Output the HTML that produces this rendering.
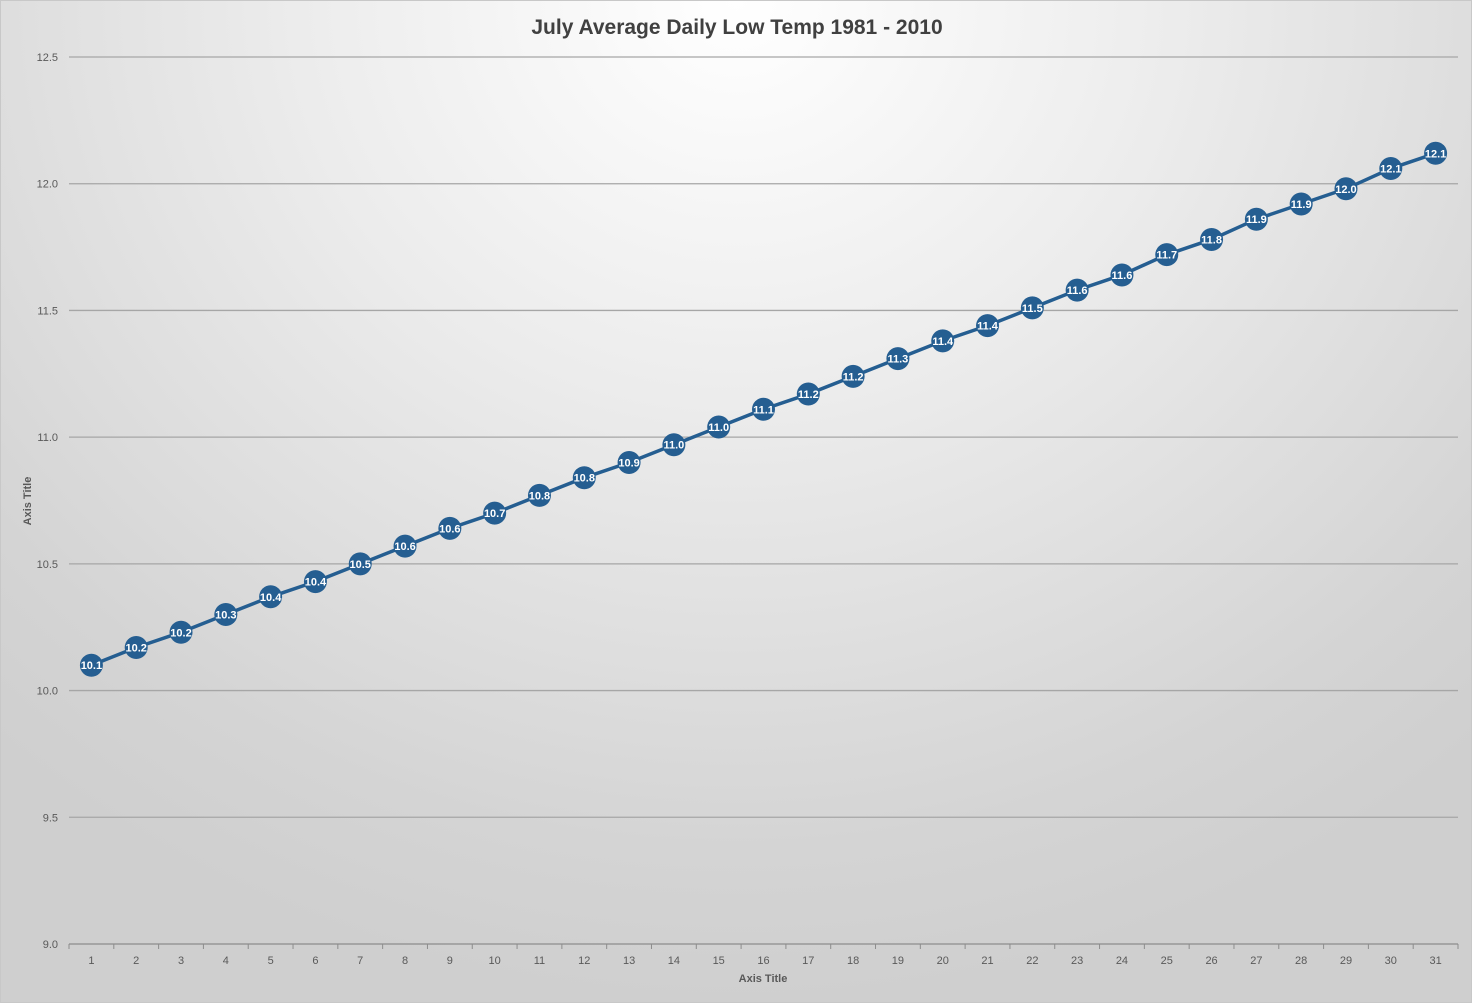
<!DOCTYPE html>
<html><head><meta charset="utf-8"><style>
html,body{margin:0;padding:0;}
body{width:1472px;height:1003px;overflow:hidden;}
#chart{position:absolute;left:0;top:0;width:1470px;height:1001px;border:1px solid #c8c8c8;
background:radial-gradient(ellipse 1100px 1000px at 736px 0px,#ffffff 0%,#ececec 40%,#d4d4d4 85%,#cfcfcf 100%);}
svg{position:absolute;left:0;top:0;}
text{font-family:"Liberation Sans",sans-serif;}
</style></head><body>
<div id="chart">
<svg id="svg" width="1472" height="1003">
<text x="736" y="33" text-anchor="middle" font-size="21" font-weight="bold" fill="#404040">July Average Daily Low Temp 1981 - 2010</text>
<text x="762" y="981" text-anchor="middle" font-size="11" font-weight="bold" fill="#595959">Axis Title</text>
<text transform="translate(30,500) rotate(-90)" text-anchor="middle" font-size="11" font-weight="bold" fill="#595959">Axis Title</text>
</svg>
</div>
<script>
const days = [1,2,3,4,5,6,7,8,9,10,11,12,13,14,15,16,17,18,19,20,21,22,23,24,25,26,27,28,29,30,31];
const temps = [10.10,10.17,10.23,10.30,10.37,10.43,10.50,10.57,10.64,10.70,10.77,10.84,10.90,10.97,11.04,11.11,11.17,11.24,11.31,11.38,11.44,11.51,11.58,11.64,11.72,11.78,11.86,11.92,11.98,12.06,12.12];
const yTicks = [9.0,9.5,10.0,10.5,11.0,11.5,12.0,12.5];

const NS='http://www.w3.org/2000/svg';
const svg=document.getElementById('svg');
const plotL=68, plotR=1457, yMin=9.0, yMax=12.5, yBot=943, yTop=56;
const catW=(plotR-plotL)/days.length;
function xs(i){return plotL+catW*(i+0.5);}
function ys(v){return yBot-(v-yMin)/(yMax-yMin)*(yBot-yTop);}
function mk(tag,attrs){const e=document.createElementNS(NS,tag);for(const k in attrs)e.setAttribute(k,attrs[k]);svg.appendChild(e);return e;}

yTicks.forEach(t=>{
  const y=ys(t);
  const g=mk('line',{x1:plotL,x2:plotR,y1:y,y2:y,stroke:t===yMin?'#8c8c8c':'#a6a6a6','stroke-width':1.3});
  
  
  const l=mk('text',{x:57,y:y+4,'text-anchor':'end','font-size':11,fill:'#595959'});
  l.textContent=t.toFixed(1);
  
  
});
for(let i=0;i<=days.length;i++){
  const x=plotL+catW*i;
  const tk=mk('line',{x1:x,x2:x,y1:yBot,y2:yBot+5,stroke:'#8c8c8c','stroke-width':1});
  
  
}
days.forEach((d,i)=>{
  const l=mk('text',{x:xs(i),y:963,'text-anchor':'middle','font-size':11,fill:'#595959'});
  l.textContent=d;
  
  
});
const pts=temps.map((v,i)=>xs(i)+','+ys(v)).join(' ');
const line=mk('polyline',{points:pts,fill:'none',stroke:'#255e91','stroke-width':3.5});


temps.forEach((v,i)=>{
  const c=mk('circle',{cx:xs(i),cy:ys(v),r:11.5,fill:'#255e91'});
  
  
  const t=mk('text',{x:xs(i),y:ys(v)+4,'text-anchor':'middle','font-size':11,'font-weight':'bold',fill:'#ffffff'});
  t.textContent=v.toFixed(1);
  
  
});
</script>
</body></html>
